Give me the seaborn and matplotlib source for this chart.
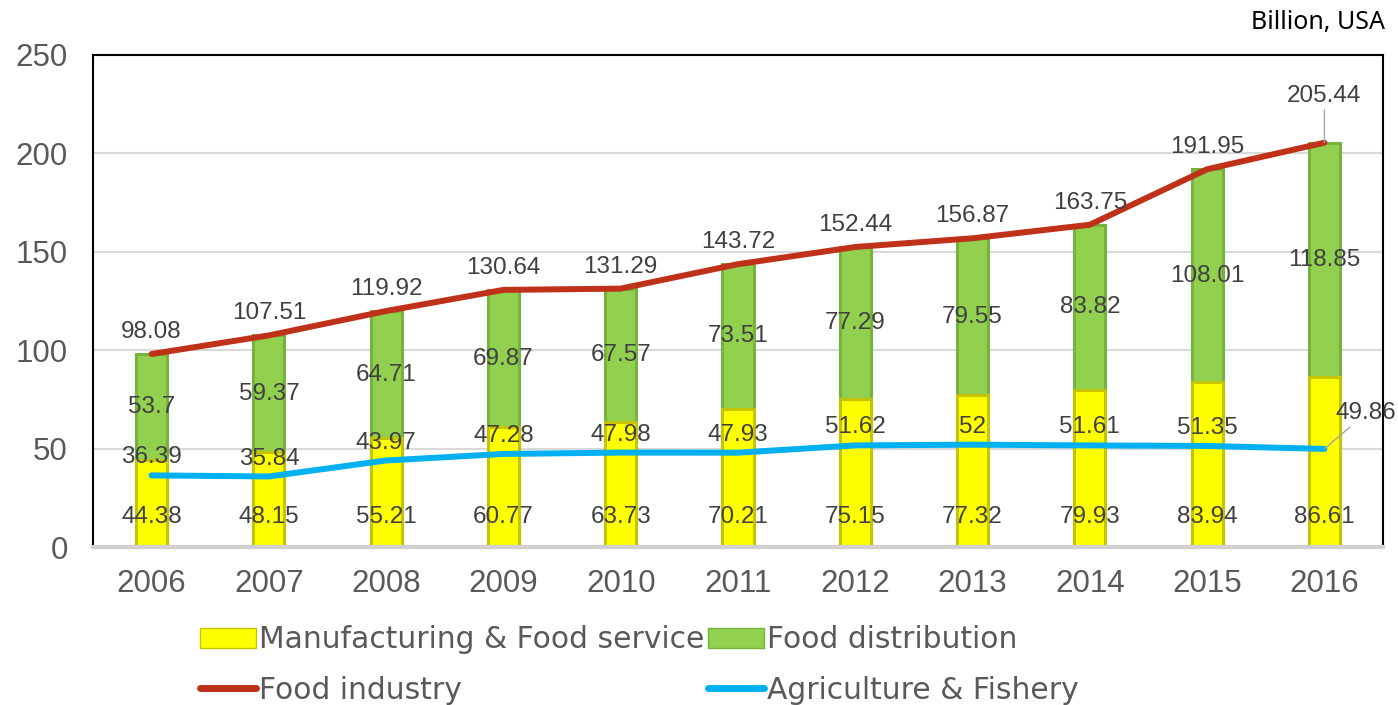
import numpy as np
import pandas as pd
import matplotlib
matplotlib.use("Agg")
import matplotlib.pyplot as plt
import seaborn as sns
from matplotlib.patches import Patch
from matplotlib.lines import Line2D

years = ["2006", "2007", "2008", "2009", "2010", "2011", "2012", "2013", "2014", "2015", "2016"]
manufacturing = [44.38, 48.15, 55.21, 60.77, 63.73, 70.21, 75.15, 77.32, 79.93, 83.94, 86.61]
distribution = [53.7, 59.37, 64.71, 69.87, 67.57, 73.51, 77.29, 79.55, 83.82, 108.01, 118.85]
food_industry = [98.08, 107.51, 119.92, 130.64, 131.29, 143.72, 152.44, 156.87, 163.75, 191.95, 205.44]
agriculture = [36.39, 35.84, 43.97, 47.28, 47.98, 47.93, 51.62, 52, 51.61, 51.35, 49.86]

df = pd.DataFrame({
    "year": years,
    "manufacturing": manufacturing,
    "distribution": distribution,
    "total": np.array(manufacturing) + np.array(distribution),
    "food_industry": food_industry,
    "agriculture": agriculture,
})

YELLOW = "#FFFF00"
YELLOW_EDGE = "#C4C400"
GREEN = "#92D050"
GREEN_EDGE = "#74B33C"
RED = "#C0311A"
BLUE = "#00B0F0"
TICK = "#595959"
LABEL = "#404040"

sns.set_style("white")
plt.rcParams["font.family"] = ["Liberation Sans", "DejaVu Sans"]

fig = plt.figure(figsize=(13.98, 7.05), dpi=100)
ax = fig.add_axes([0.0665, 0.2241, 0.9228, 0.6979])

# stacked bars: full height in green, manufacturing part in yellow on top
sns.barplot(data=df, x="year", y="total", color=GREEN, width=0.265,
            edgecolor=GREEN_EDGE, linewidth=2.2, saturation=1, ax=ax, zorder=2)
sns.barplot(data=df, x="year", y="manufacturing", color=YELLOW, width=0.265,
            edgecolor=YELLOW_EDGE, linewidth=2.2, saturation=1, ax=ax, zorder=2)

sns.lineplot(data=df, x="year", y="food_industry", color=RED, linewidth=4.3,
             ax=ax, zorder=4, solid_capstyle="round", solid_joinstyle="round")
sns.lineplot(data=df, x="year", y="agriculture", color=BLUE, linewidth=4.3,
             ax=ax, zorder=4, solid_capstyle="round", solid_joinstyle="round")

n = len(years)
for i in range(n):
    # manufacturing label near bar base
    ax.text(i, 15, f"{manufacturing[i]:g}", ha="center", va="center",
            fontsize=17.5, color=LABEL, zorder=5)
    # distribution label in the middle of the green segment
    ax.text(i, manufacturing[i] + distribution[i] / 2, f"{distribution[i]:g}",
            ha="center", va="center", fontsize=17.5, color=LABEL, zorder=5)
    # food industry label above the line
    if i == n - 1:
        ax.annotate(f"{food_industry[i]:g}", (i, food_industry[i]),
                    xytext=(0, 26), textcoords="offset points",
                    ha="center", va="bottom", fontsize=17.5, color=LABEL, zorder=5,
                    arrowprops=dict(arrowstyle="-", color="#A6A6A6", lw=1,
                                    shrinkA=0, shrinkB=0))
    else:
        ax.annotate(f"{food_industry[i]:g}", (i, food_industry[i]),
                    xytext=(0, 8), textcoords="offset points",
                    ha="center", va="bottom", fontsize=17.5, color=LABEL, zorder=5)
    # agriculture label above the line
    if i == n - 1:
        ax.annotate(f"{agriculture[i]:g}", (i, agriculture[i]),
                    xytext=(8, 18), textcoords="offset points",
                    ha="left", va="bottom", fontsize=17.5, color=LABEL, zorder=5,
                    arrowprops=dict(arrowstyle="-", color="#A6A6A6", lw=1,
                                    shrinkA=0, shrinkB=0, relpos=(0.3, 0)))
    else:
        ax.annotate(f"{agriculture[i]:g}", (i, agriculture[i]),
                    xytext=(0, 5), textcoords="offset points",
                    ha="center", va="bottom", fontsize=17.5, color=LABEL, zorder=5)

ax.set_xlim(-0.5, n - 0.5)
ax.set_ylim(0, 250)
ax.set_yticks([0, 50, 100, 150, 200, 250])
ax.set_xlabel("")
ax.set_ylabel("")
ax.yaxis.grid(True, color="#D9D9D9", linewidth=1.5, zorder=0)
ax.set_axisbelow(True)
ax.tick_params(axis="both", labelsize=22.5, colors=TICK, length=0)
ax.tick_params(axis="x", pad=16)
ax.tick_params(axis="y", pad=18)

for side in ["left", "top", "right"]:
    ax.spines[side].set_color("black")
    ax.spines[side].set_linewidth(1.5)
ax.spines["bottom"].set_color("#D0D0D0")
ax.spines["bottom"].set_linewidth(3)

fig.text(0.991, 0.968, "Billion, USA", ha="right", va="center",
         fontsize=18, color="black", family=["Noto Sans", "DejaVu Sans"])

handles = [
    Patch(facecolor=YELLOW, edgecolor=YELLOW_EDGE, label="Manufacturing & Food service"),
    Line2D([0], [0], color=RED, linewidth=5, solid_capstyle="round", label="Food industry"),
    Patch(facecolor=GREEN, edgecolor=GREEN_EDGE, label="Food distribution"),
    Line2D([0], [0], color=BLUE, linewidth=5, solid_capstyle="round", label="Agriculture & Fishery"),
]
leg = fig.legend(handles=handles, loc="upper left", bbox_to_anchor=(0.143, 0.113),
                 ncol=2, frameon=False, handlelength=1.9,
                 handletextpad=0.1, columnspacing=0.1, labelspacing=0.72,
                 borderaxespad=0, borderpad=0,
                 prop={"family": ["DejaVu Sans"], "size": 21.4})
for t in leg.get_texts():
    t.set_color(TICK)

fig.savefig("out.png", dpi=100)
